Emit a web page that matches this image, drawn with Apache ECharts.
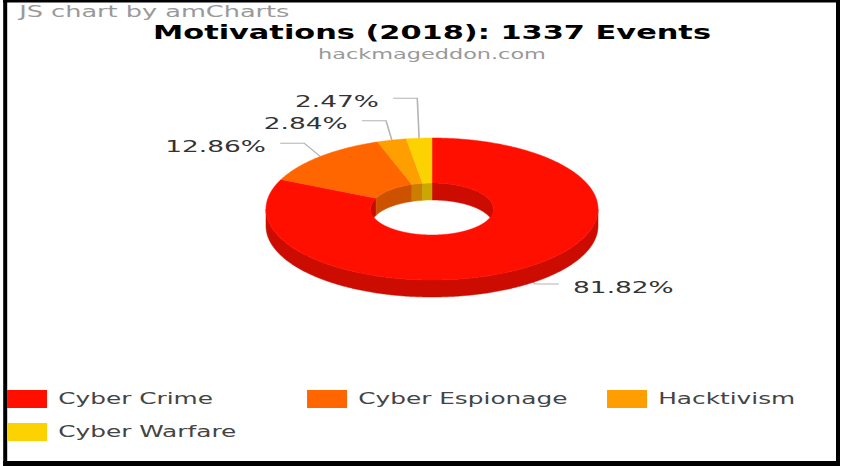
<!DOCTYPE html>
<html>
<head>
<meta charset="utf-8">
<title>Motivations (2018): 1337 Events</title>
<script src="https://cdn.jsdelivr.net/npm/echarts@6/dist/echarts.min.js"></script>
<style>
  html, body { margin: 0; padding: 0; background: #ffffff; overflow: hidden; width: 843px; height: 466px; }
  /* the chart is laid out narrow and widened horizontally, giving the broad lettering */
  #chart { position: absolute; left: 0; top: 0; width: 540px; height: 466px;
           transform: scaleX(1.6); transform-origin: 0 0; }
</style>
</head>
<body>
<div id="chart"></div>
<script>
// ---- data ----
const categories = ['Cyber Crime', 'Cyber Espionage', 'Hacktivism', 'Cyber Warfare'];
const eventCounts = [1094, 172, 38, 33];
const sliceColors = ['#FF0F00', '#FF6600', '#FF9E01', '#FCD202'];
const titleText = 'Motivations (2018): 1337 Events';
const subtitleText = 'hackmageddon.com';
const creditText = 'JS chart by amCharts';

// ---- 3D donut geometry (chart-local pixels, before the horizontal widening) ----
const pie = {
  cy: 209,
  rx: 103.75, ry: 71,          // outer ellipse of the top face
  rxIn: 38.4, ryIn: 26,        // inner (hole) ellipse
  depth: 17,                   // thickness of the ring
  labelDx: 15, labelDy: 18,    // how far labels sit outside the ring
  tail: 15, gap: 9,            // horizontal leader tail and text gap
  spacing: 22.5                // minimum vertical distance between labels
};

// legend grid: three columns, items wrap to the next row
const legendLayout = { left: 4.4, top: 390, colWidth: 187.5, rowHeight: 33, perRow: 3 };

const total = eventCounts.reduce((a, b) => a + b, 0);
let running = 0;
const slices = eventCounts.map((v, i) => {
  const a0 = running / total * 360;
  running += v;
  const a1 = running / total * 360;
  return { index: i, a0, a1, mid: (a0 + a1) / 2, pct: (v / total * 100).toFixed(2) + '%' };
});

function darken(hex, k) {
  const n = parseInt(hex.slice(1), 16);
  const r = Math.round(((n >> 16) & 255) * k);
  const g = Math.round(((n >> 8) & 255) * k);
  const b = Math.round((n & 255) * k);
  return 'rgb(' + r + ',' + g + ',' + b + ')';
}

function layoutLabels(cx) {
  slices.forEach(s => {
    const t = s.mid * Math.PI / 180;
    s.side = Math.sin(t) >= 0 ? 1 : -1;
    s.ax = cx + pie.rx * Math.sin(t);
    s.ay = pie.cy - pie.ry * Math.cos(t);
    s.ex = cx + (pie.rx + pie.labelDx) * Math.sin(t);
    s.ey = pie.cy - (pie.ry + pie.labelDy) * Math.cos(t);
  });
  // left column: walk upward and keep labels apart
  const left = slices.filter(s => s.side < 0).sort((a, b) => a.mid - b.mid);
  for (let i = 1; i < left.length; i++) {
    left[i].ey = Math.min(left[i].ey, left[i - 1].ey - pie.spacing);
  }
  // right column: walk downward
  const right = slices.filter(s => s.side > 0).sort((a, b) => a.mid - b.mid);
  for (let i = 1; i < right.length; i++) {
    right[i].ey = Math.max(right[i].ey, right[i - 1].ey + pie.spacing);
  }
}

function ellipsePoint(cx, cy, rx, ry, deg, dy) {
  const t = deg * Math.PI / 180;
  return [cx + rx * Math.sin(t), cy - ry * Math.cos(t) + dy];
}
function arcPoints(cx, cy, rx, ry, a0, a1, dy) {
  const n = Math.max(2, Math.ceil(Math.abs(a1 - a0) * 2) + 1);
  const pts = [];
  for (let k = 0; k < n; k++) {
    pts.push(ellipsePoint(cx, cy, rx, ry, a0 + (a1 - a0) * k / (n - 1), dy));
  }
  return pts;
}
function wall(cx, rx, ry, a0, a1) {
  return arcPoints(cx, pie.cy, rx, ry, a0, a1, 0)
    .concat(arcPoints(cx, pie.cy, rx, ry, a1, a0, pie.depth));
}
function topFace(cx, a0, a1) {
  return arcPoints(cx, pie.cy, pie.rx, pie.ry, a0, a1, 0)
    .concat(arcPoints(cx, pie.cy, pie.rxIn, pie.ryIn, a1, a0, 0));
}

function makeRenderer(i) {
  return function (params, api) {
    const cx = api.getWidth() / 2;
    layoutLabels(cx);
    const s = slices[i];
    const color = sliceColors[i];
    const side = darken(color, 0.8);
    const children = [];
    const poly = (points, fill, z2) => ({
      type: 'polygon', z2, silent: true,
      shape: { points },
      style: { fill, stroke: fill, lineWidth: 0.4 }
    });

    // inner wall, visible on the far half of the hole
    if (s.a0 < 90) children.push(poly(wall(cx, pie.rxIn, pie.ryIn, s.a0, Math.min(s.a1, 90)), side, 1));
    if (s.a1 > 270) children.push(poly(wall(cx, pie.rxIn, pie.ryIn, Math.max(s.a0, 270), s.a1), side, 1));
    // outer wall, visible on the near half
    const o0 = Math.max(s.a0, 90), o1 = Math.min(s.a1, 270);
    if (o1 > o0) children.push(poly(wall(cx, pie.rx, pie.ry, o0, o1), side, 2));
    // top face
    children.push(poly(topFace(cx, s.a0, s.a1), color, 3));

    // leader line and percentage label
    const tx = s.ex + s.side * pie.tail;
    children.push({
      type: 'polyline', z2: 0, silent: true,
      shape: { points: [[s.ax, s.ay], [s.ex, s.ey], [tx, s.ey]] },
      style: { stroke: '#b4b4b4', lineWidth: 1, fill: null }
    });
    children.push({
      type: 'text', z2: 5, silent: true,
      x: tx + s.side * pie.gap, y: s.ey + 3,
      style: {
        text: s.pct, fill: '#333333',
        fontFamily: 'DejaVu Sans', fontSize: 16.5,
        align: s.side > 0 ? 'left' : 'right', textAlign: s.side > 0 ? 'left' : 'right',
        verticalAlign: 'middle', textVerticalAlign: 'middle'
      }
    });
    return { type: 'group', children };
  };
}

const chart = echarts.init(document.getElementById('chart'), null, { renderer: 'svg' });

chart.setOption({
  animation: false,
  backgroundColor: '#ffffff',
  title: {
    text: titleText,
    subtext: subtitleText,
    left: 'center',
    top: 16,
    itemGap: 3,
    textStyle: { fontFamily: 'DejaVu Sans', fontWeight: 'bold', fontSize: 19, lineHeight: 22, color: '#000000' },
    subtextStyle: { fontFamily: 'DejaVu Sans', fontSize: 14, lineHeight: 16, color: '#999999' }
  },
  legend: categories.map((name, i) => ({
    data: [name],
    selectedMode: false,
    icon: 'rect',
    padding: 0,
    left: legendLayout.left + (i % legendLayout.perRow) * legendLayout.colWidth,
    top: legendLayout.top + Math.floor(i / legendLayout.perRow) * legendLayout.rowHeight,
    itemWidth: 25,
    itemHeight: 18,
    textStyle: { fontFamily: 'DejaVu Sans', fontSize: 15.5, color: '#444444', padding: [0, 0, 0, 2] }
  })),
  graphic: [
    {
      type: 'text', left: 12, top: 3, silent: true,
      style: { text: creditText, fill: '#999999', fontFamily: 'DejaVu Sans', fontSize: 16 }
    },
    // picture frame
    { type: 'rect', silent: true, shape: { x: 2, y: 0, width: 2.5, height: 466 }, style: { fill: '#000000' } },
    { type: 'rect', silent: true, shape: { x: 2, y: 461, width: 523, height: 5 }, style: { fill: '#000000' } },
    { type: 'rect', silent: true, shape: { x: 522.5, y: 0, width: 2.5, height: 466 }, style: { fill: '#000000' } },
    { type: 'rect', silent: true, shape: { x: 2, y: 0, width: 523, height: 2.5 }, style: { fill: '#000000' } }
  ],
  series: categories.map((name, i) => ({
    type: 'custom',
    name,
    coordinateSystem: 'none',
    itemStyle: { color: sliceColors[i] },
    data: [eventCounts[i]],
    renderItem: makeRenderer(i)
  }))
});
</script>
</body>
</html>
